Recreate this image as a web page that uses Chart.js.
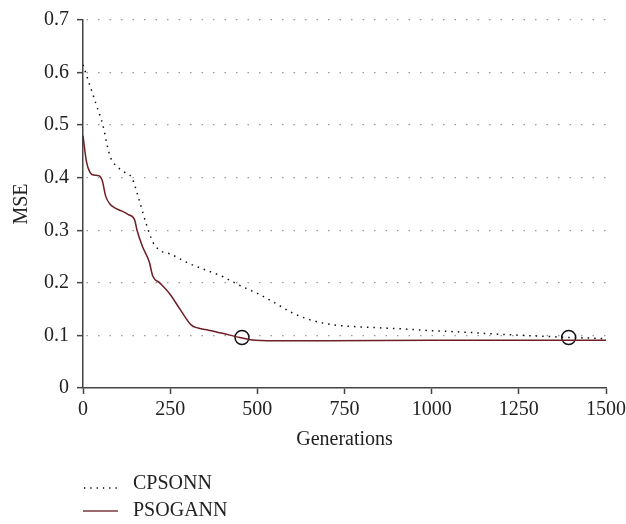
<!DOCTYPE html>
<html>
<head>
<meta charset="utf-8">
<script src="https://cdn.jsdelivr.net/npm/chart.js@4.4.1/dist/chart.umd.min.js"></script>
<style>
  html, body { margin: 0; padding: 0; background: #fff; }
  #wrap { position: relative; width: 626px; height: 524px; }
  #legend { position: absolute; left: 83px; top: 469px; font-family: "Liberation Serif", serif; font-size: 20px; color: #222; }
  .row { display: flex; align-items: center; height: 27px; }
  .row svg { margin-right: 15px; }
</style>
</head>
<body>
<div id="wrap">
  <canvas id="mseChart" width="626" height="524"></canvas>
  <div id="legend">
    <div class="row"><svg width="35" height="20"><line x1="1" y1="15" x2="35" y2="15" stroke="#000" stroke-width="1.3" stroke-dasharray="1.3,5"/></svg>CPSONN</div>
    <div class="row"><svg width="35" height="20"><line x1="0" y1="11" x2="35" y2="11" stroke="#7a3a3e" stroke-width="1.6"/></svg>PSOGANN</div>
  </div>
</div>
<script>
// values
const cpsonnGens = [0, 20, 40, 57, 70, 80, 100, 120, 140, 160, 180, 200, 220, 250, 280, 300, 350, 400, 450, 500, 550, 600, 650, 700, 750, 800, 900, 1000, 1100, 1200, 1300, 1400, 1500];
const cpsonnMse = [0.615, 0.575, 0.535, 0.5, 0.46, 0.437, 0.42, 0.41, 0.4, 0.36, 0.315, 0.278, 0.262, 0.255, 0.245, 0.238, 0.225, 0.212, 0.195, 0.18, 0.162, 0.143, 0.13, 0.122, 0.118, 0.116, 0.113, 0.109, 0.106, 0.102, 0.099, 0.096, 0.094];

const psoganGens = [0, 10, 20, 30, 45, 55, 65, 77, 90, 110, 130, 148, 155, 170, 190, 200, 220, 250, 280, 310, 330, 360, 400, 450, 480, 550, 700, 1000, 1500];
const psoganMse = [0.48, 0.43, 0.41, 0.405, 0.404, 0.395, 0.365, 0.35, 0.343, 0.337, 0.33, 0.32, 0.3, 0.27, 0.24, 0.213, 0.2, 0.178, 0.148, 0.12, 0.114, 0.11, 0.104, 0.096, 0.092, 0.09, 0.09, 0.091, 0.091];

const markerGens = [456, 1393];
const markerMse = [0.096, 0.096];

const xTickLabels = ['0', '250', '500', '750', '1000', '1250', '1500'];
const yTickLabels = ['0', '0.1', '0.2', '0.3', '0.4', '0.5', '0.6', '0.7'];

const toPoints = (xs, ys) => xs.map((x, i) => ({ x: x, y: ys[i] }));
const serif = { family: '"Liberation Serif", serif', size: 20 };

const ctx = document.getElementById('mseChart').getContext('2d');
new Chart(ctx, {
    type: 'line',
    data: {
        datasets: [{
            label: 'CPSONN',
            data: toPoints(cpsonnGens, cpsonnMse),
            borderColor: '#111',
            borderWidth: 1.5,
            borderDash: [1.5, 5],
            pointRadius: 0,
            cubicInterpolationMode: 'monotone',
            fill: false
        }, {
            label: 'PSOGANN',
            data: toPoints(psoganGens, psoganMse),
            borderColor: '#6d1f25',
            borderWidth: 1.5,
            pointRadius: 0,
            cubicInterpolationMode: 'monotone',
            fill: false
        }, {
            label: 'markers',
            data: toPoints(markerGens, markerMse),
            showLine: false,
            pointRadius: 7,
            pointBackgroundColor: '#fff',
            pointBorderColor: '#111',
            pointBorderWidth: 1.5
        }]
    },
    options: {
        responsive: false,
        animation: false,
        layout: { padding: { top: 17, right: 20, left: 10, bottom: 72 } },
        plugins: { legend: { display: false }, tooltip: { enabled: false } },
        scales: {
            x: {
                type: 'linear',
                min: 0,
                max: 1500,
                afterBuildTicks: scale => { scale.ticks = xTickLabels.map(t => ({ value: parseFloat(t) })); },
                afterFit: scale => { scale.height = 64; scale.paddingRight = 0; scale.paddingLeft = 0; },
                ticks: { font: serif, color: '#222', padding: 4, maxRotation: 0, callback: (v, i) => xTickLabels[i] },
                grid: { drawOnChartArea: false, tickLength: 6, tickColor: '#444', tickWidth: 1.5 },
                border: { color: '#444', width: 1.5 },
                title: { display: true, text: 'Generations', font: serif, color: '#222', padding: 0 }
            },
            y: {
                min: 0,
                max: 0.7,
                afterBuildTicks: scale => { scale.ticks = yTickLabels.map(t => ({ value: parseFloat(t) })); },
                afterFit: scale => { scale.width = 73; },
                ticks: {
                    font: serif,
                    color: '#222',
                    padding: 8,
                    callback: (v, i) => yTickLabels[i]
                },
                grid: {
                    color: ctx => ctx.tick && ctx.tick.value === 0 ? 'rgba(0,0,0,0)' : '#999',
                    lineWidth: 1.3,
                    tickLength: 6,
                    tickColor: '#444',
                    tickWidth: 1.5,
                    tickBorderDash: []
                },
                border: { color: '#444', width: 1.5, dash: [1.5, 10], dashOffset: -3 },
                title: { display: true, text: 'MSE', font: serif, color: '#222', padding: 0 }
            }
        }
    }
});
</script>
</body>
</html>
